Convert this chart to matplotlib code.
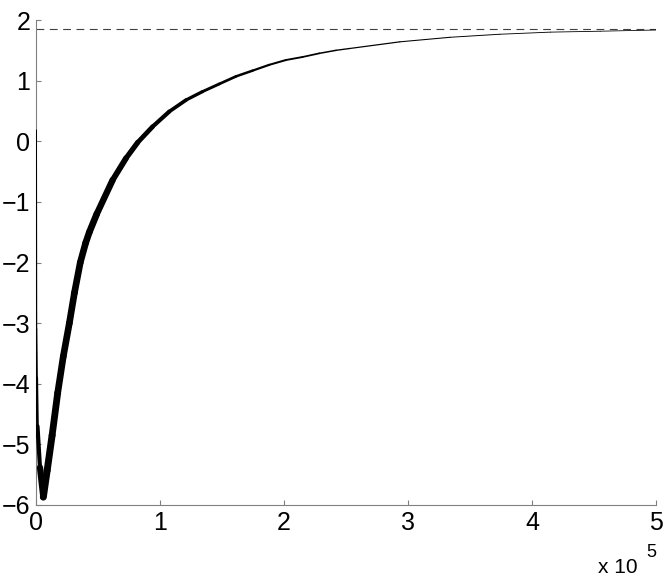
import numpy as np
import matplotlib
matplotlib.use('Agg')
import matplotlib.pyplot as plt
from matplotlib.collections import LineCollection

plt.rcParams['font.family'] = ['Liberation Sans', 'DejaVu Sans']

# ── Data ────────────────────────────────────────────────────────────
curve_x = [0, 200, 600, 1200, 3200, 5900, 9000, 13000, 17500, 22000,
           26900, 31000, 35700, 40000, 43000, 49000, 61800, 72600, 82000,
           94000, 107500, 121000, 134400, 147800, 161300, 174700, 188000,
           201600, 215000, 228500, 242000, 253000, 293500, 334000, 374000,
           415000, 455000, 500000]
curve_y = [0.18, -3.1, -3.9, -4.7, -5.38, -5.87, -5.43, -4.85, -4.15, -3.55,
           -3.0, -2.5, -2.0, -1.68, -1.5, -1.2, -0.64, -0.28, -0.02,
           0.24, 0.49, 0.68, 0.82, 0.945, 1.07, 1.165, 1.26,
           1.34, 1.39, 1.45, 1.5, 1.53, 1.64, 1.715, 1.765,
           1.80, 1.815, 1.835]
steady_state = 1.85

x_ticks = [0, 100000, 200000, 300000, 400000, 500000]
x_ticklabels = ["0", "1", "2", "3", "4", "5"]
y_ticks = [-6, -5, -4, -3, -2, -1, 0, 1, 2]
y_ticklabels = ["\u22126", "\u22125", "\u22124", "\u22123", "\u22122", "\u22121", "0", "1", "2"]

# oscillation band thickness (pt) along the curve
band_lw = [1.4, 1.4, 1.8, 2.0, 4.0, 5.0, 5.0, 5.0, 4.8, 4.8,
           4.8, 4.8, 4.8, 4.8, 4.8, 4.8, 4.4, 4.0, 3.6, 3.2,
           2.8, 2.5, 2.2, 2.0, 1.9, 1.7, 1.5, 1.4, 1.3, 1.2,
           1.0, 0.95, 0.8, 0.7, 0.65, 0.6, 0.6, 0.55]

fig = plt.figure(figsize=(6.7, 5.77), dpi=100)
ax = fig.add_axes([36/670, 72/577, 620/670, 485/577])

pts = np.column_stack([curve_x, curve_y])
segs = np.stack([pts[:-1], pts[1:]], axis=1)
seg_lw = [(a + b) / 2 for a, b in zip(band_lw[:-1], band_lw[1:])]
lc = LineCollection(segs, colors="black", linewidths=seg_lw, capstyle="round",
                    joinstyle="round", zorder=3)
ax.add_collection(lc)

ax.axhline(steady_state, color="#404040", linewidth=0.8, dashes=(7, 5), zorder=2)

ax.set_xlim(0, 500000)
ax.set_ylim(-6, 2)
ax.set_xticks(x_ticks)
ax.set_xticklabels(x_ticklabels)
ax.set_yticks(y_ticks)
ax.set_yticklabels(y_ticklabels)

for s in ["top", "right"]:
    ax.spines[s].set_visible(False)
for s in ["left", "bottom"]:
    ax.spines[s].set_color("#808080")
    ax.spines[s].set_linewidth(0.8)
ax.tick_params(direction="in", length=3.5, width=0.8, color="#808080",
               labelsize=18, labelcolor="black")
ax.tick_params(axis="x", pad=4)
ax.tick_params(axis="y", pad=4)

fig.text(638/670, 1 - 573/577, "x 10", ha="right", va="baseline", fontsize=15)
fig.text(646/670, 1 - 557/577, "5", ha="left", va="baseline", fontsize=13)

fig.savefig("out.png", dpi=100)
